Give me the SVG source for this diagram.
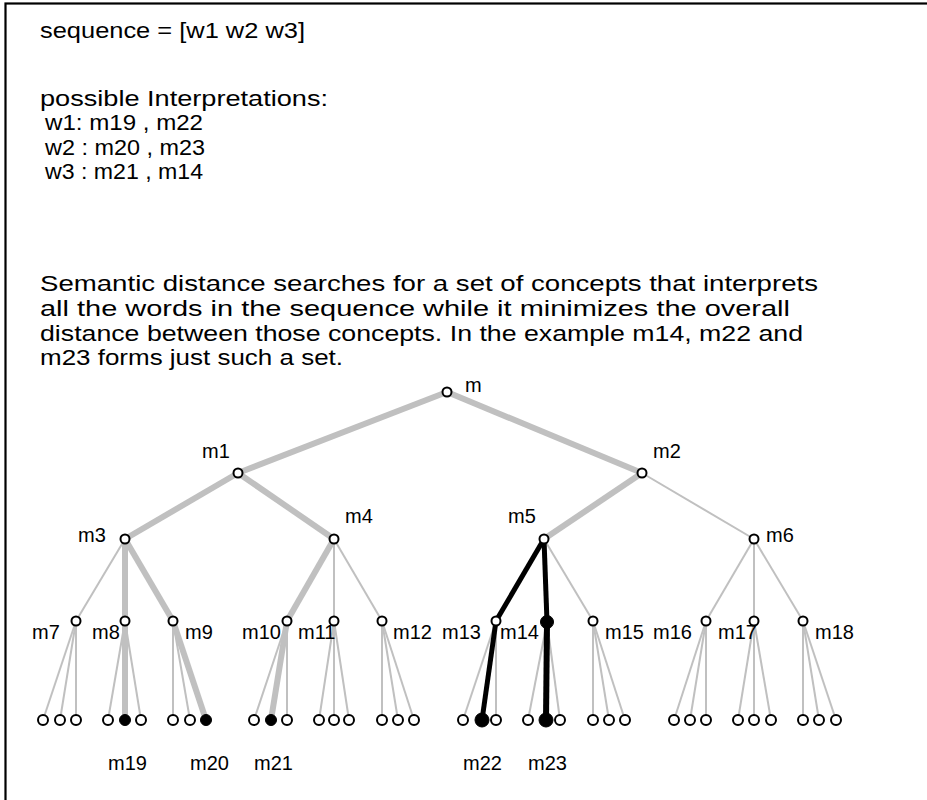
<svg xmlns="http://www.w3.org/2000/svg" width="927" height="800" viewBox="0 0 927 800">
  <style>
    .txt { font-family: "Liberation Sans", Arial, sans-serif; font-size: 22px; fill: #000; }
    .lbl { font-family: "Liberation Sans", Arial, sans-serif; font-size: 20px; fill: #000; }
    .thin { stroke: #c0c0c0; stroke-width: 2; fill: none; }
    .thick { stroke: #c0c0c0; stroke-width: 6; fill: none; }
    .path { stroke: #000; stroke-width: 5; fill: none; }
    .open { fill: #fff; stroke: #000; stroke-width: 2; }
    .hit { fill: #000; stroke: #000; stroke-width: 1; }
  </style>
  <rect width="927" height="800" fill="#fff"/>
  <rect x="5.5" y="3.5" width="940" height="820" fill="none" stroke="#000" stroke-width="2.2"/>

  <!-- explanatory text -->
  <g id="caption">
    <text class="txt" x="40" y="38" textLength="265" lengthAdjust="spacingAndGlyphs">sequence = [w1 w2 w3]</text>
    <text class="txt" x="40" y="106" textLength="288" lengthAdjust="spacingAndGlyphs">possible Interpretations:</text>
    <text class="txt" x="45" y="130" textLength="158" lengthAdjust="spacingAndGlyphs">w1:  m19 , m22</text>
    <text class="txt" x="45" y="155" textLength="160" lengthAdjust="spacingAndGlyphs">w2 : m20 , m23</text>
    <text class="txt" x="45" y="179" textLength="158" lengthAdjust="spacingAndGlyphs">w3 : m21 , m14</text>
    <text class="txt" x="40" y="291" textLength="778" lengthAdjust="spacingAndGlyphs">Semantic distance searches for a set of concepts that interprets</text>
    <text class="txt" x="40" y="316" textLength="750" lengthAdjust="spacingAndGlyphs">all the words in the sequence while it minimizes the overall</text>
    <text class="txt" x="40" y="341" textLength="763" lengthAdjust="spacingAndGlyphs">distance between those concepts. In the example m14, m22 and</text>
    <text class="txt" x="40" y="365" textLength="303" lengthAdjust="spacingAndGlyphs">m23 forms just such a set.</text>
  </g>

  <!-- tree edges -->
  <g id="connectors">
    <!-- ordinary links -->
    <g class="thin">
      <line x1="642" y1="473" x2="754" y2="539"/>
      <line x1="125" y1="539" x2="76" y2="621"/>
      <line x1="334" y1="539" x2="334" y2="621"/>
      <line x1="334" y1="539" x2="382" y2="621"/>
      <line x1="544" y1="539" x2="593" y2="621"/>
      <line x1="754" y1="539" x2="706" y2="621"/>
      <line x1="754" y1="539" x2="754" y2="621"/>
      <line x1="754" y1="539" x2="803" y2="621"/>
      <!-- leaves -->
      <line x1="76" y1="621" x2="43" y2="720"/>
      <line x1="76" y1="621" x2="60" y2="720"/>
      <line x1="76" y1="621" x2="76" y2="720"/>
      <line x1="125" y1="621" x2="108" y2="720"/>
      <line x1="125" y1="621" x2="141" y2="720"/>
      <line x1="173" y1="621" x2="173" y2="720"/>
      <line x1="173" y1="621" x2="190" y2="720"/>
      <line x1="287" y1="621" x2="254" y2="720"/>
      <line x1="287" y1="621" x2="287" y2="720"/>
      <line x1="334" y1="621" x2="319" y2="720"/>
      <line x1="334" y1="621" x2="334" y2="720"/>
      <line x1="334" y1="621" x2="349" y2="720"/>
      <line x1="382" y1="621" x2="382" y2="720"/>
      <line x1="382" y1="621" x2="398" y2="720"/>
      <line x1="382" y1="621" x2="414" y2="720"/>
      <line x1="496" y1="621" x2="463" y2="720"/>
      <line x1="496" y1="621" x2="496" y2="720"/>
      <line x1="547" y1="622" x2="528" y2="720"/>
      <line x1="547" y1="622" x2="560" y2="720"/>
      <line x1="593" y1="621" x2="593" y2="720"/>
      <line x1="593" y1="621" x2="609" y2="720"/>
      <line x1="593" y1="621" x2="625" y2="720"/>
      <line x1="706" y1="621" x2="674" y2="720"/>
      <line x1="706" y1="621" x2="690" y2="720"/>
      <line x1="706" y1="621" x2="706" y2="720"/>
      <line x1="754" y1="621" x2="738" y2="720"/>
      <line x1="754" y1="621" x2="754" y2="720"/>
      <line x1="754" y1="621" x2="771" y2="720"/>
      <line x1="803" y1="621" x2="803" y2="720"/>
      <line x1="803" y1="621" x2="819" y2="720"/>
      <line x1="803" y1="621" x2="836" y2="720"/>
    </g>
    <!-- paths to the ancestors -->
    <g class="thick">
      <line x1="447" y1="392" x2="238" y2="473"/>
      <line x1="447" y1="392" x2="642" y2="473"/>
      <line x1="238" y1="473" x2="125" y2="539"/>
      <line x1="238" y1="473" x2="334" y2="539"/>
      <line x1="642" y1="473" x2="544" y2="539"/>
      <line x1="125" y1="539" x2="125" y2="621"/>
      <line x1="125" y1="539" x2="173" y2="621"/>
      <line x1="334" y1="539" x2="287" y2="621"/>
      <line x1="125" y1="621" x2="125" y2="720"/>
      <line x1="173" y1="621" x2="206" y2="720"/>
      <line x1="287" y1="621" x2="271" y2="720"/>
    </g>
    <!-- minimal set -->
    <g class="path">
      <line x1="544" y1="539" x2="496" y2="621"/>
      <line x1="496" y1="621" x2="482" y2="720"/>
      <line x1="544" y1="539" x2="547" y2="622"/>
      <line x1="547" y1="622" x2="546" y2="720" stroke-width="6"/>
    </g>
  </g>

  <!-- nodes -->
  <g id="n-m"><circle class="open" cx="447" cy="392" r="4.5"/><text class="lbl" x="465" y="392">m</text></g>
  <g id="n-m1"><circle class="open" cx="238" cy="473" r="4.5"/><text class="lbl" x="202" y="458">m1</text></g>
  <g id="n-m2"><circle class="open" cx="642" cy="473" r="4.5"/><text class="lbl" x="653" y="458">m2</text></g>
  <g id="n-m3"><circle class="open" cx="125" cy="539" r="4.5"/><text class="lbl" x="78" y="542">m3</text></g>
  <g id="n-m4"><circle class="open" cx="334" cy="539" r="4.5"/><text class="lbl" x="345" y="523">m4</text></g>
  <g id="n-m5"><circle class="open" cx="544" cy="539" r="4.5"/><text class="lbl" x="508" y="523">m5</text></g>
  <g id="n-m6"><circle class="open" cx="754" cy="539" r="4.5"/><text class="lbl" x="766" y="542">m6</text></g>

  <g id="n-m7"><circle class="open" cx="76" cy="621" r="4.5"/><text class="lbl" x="32" y="639">m7</text></g>
  <g id="n-m8"><circle class="open" cx="125" cy="621" r="4.5"/><text class="lbl" x="92" y="639">m8</text></g>
  <g id="n-m9"><circle class="open" cx="173" cy="621" r="4.5"/><text class="lbl" x="185" y="639">m9</text></g>
  <g id="n-m10"><circle class="open" cx="287" cy="621" r="4.5"/><text class="lbl" x="242" y="639">m10</text></g>
  <g id="n-m11"><circle class="open" cx="334" cy="621" r="4.5"/><text class="lbl" x="298" y="639">m11</text></g>
  <g id="n-m12"><circle class="open" cx="382" cy="621" r="4.5"/><text class="lbl" x="393" y="639">m12</text></g>
  <g id="n-m13"><circle class="open" cx="496" cy="621" r="4.5"/><text class="lbl" x="442" y="639">m13</text></g>
  <g id="n-m14"><circle class="hit" cx="547" cy="622" r="6.5"/><text class="lbl" x="500" y="639">m14</text></g>
  <g id="n-m15"><circle class="open" cx="593" cy="621" r="4.5"/><text class="lbl" x="605" y="639">m15</text></g>
  <g id="n-m16"><circle class="open" cx="706" cy="621" r="4.5"/><text class="lbl" x="653" y="639">m16</text></g>
  <g id="n-m17"><circle class="open" cx="754" cy="621" r="4.5"/><text class="lbl" x="718" y="639">m17</text></g>
  <g id="n-m18"><circle class="open" cx="803" cy="621" r="4.5"/><text class="lbl" x="815" y="639">m18</text></g>

  <!-- leaves -->
  <g id="leaves">
    <circle class="open" cx="43" cy="720" r="5"/><circle class="open" cx="60" cy="720" r="5"/><circle class="open" cx="76" cy="720" r="5"/>
    <circle class="open" cx="108" cy="720" r="5"/><circle class="open" cx="141" cy="720" r="5"/>
    <circle class="open" cx="173" cy="720" r="5"/><circle class="open" cx="190" cy="720" r="5"/>
    <circle class="open" cx="254" cy="720" r="5"/><circle class="open" cx="287" cy="720" r="5"/>
    <circle class="open" cx="319" cy="720" r="5"/><circle class="open" cx="334" cy="720" r="5"/><circle class="open" cx="349" cy="720" r="5"/>
    <circle class="open" cx="382" cy="720" r="5"/><circle class="open" cx="398" cy="720" r="5"/><circle class="open" cx="414" cy="720" r="5"/>
    <circle class="open" cx="463" cy="720" r="5"/><circle class="open" cx="496" cy="720" r="5"/>
    <circle class="open" cx="528" cy="720" r="5"/><circle class="open" cx="560" cy="720" r="5"/>
    <circle class="open" cx="593" cy="720" r="5"/><circle class="open" cx="609" cy="720" r="5"/><circle class="open" cx="625" cy="720" r="5"/>
    <circle class="open" cx="674" cy="720" r="5"/><circle class="open" cx="690" cy="720" r="5"/><circle class="open" cx="706" cy="720" r="5"/>
    <circle class="open" cx="738" cy="720" r="5"/><circle class="open" cx="754" cy="720" r="5"/><circle class="open" cx="771" cy="720" r="5"/>
    <circle class="open" cx="803" cy="720" r="5"/><circle class="open" cx="819" cy="720" r="5"/><circle class="open" cx="836" cy="720" r="5"/>
  </g>
  <g id="n-m19"><circle class="hit" cx="125" cy="720" r="5.5"/><text class="lbl" x="108" y="770">m19</text></g>
  <g id="n-m20"><circle class="hit" cx="206" cy="720" r="5.5"/><text class="lbl" x="190" y="770">m20</text></g>
  <g id="n-m21"><circle class="hit" cx="271" cy="720" r="5.5"/><text class="lbl" x="254" y="770">m21</text></g>
  <g id="n-m22"><circle class="hit" cx="482" cy="720" r="7"/><text class="lbl" x="463" y="770">m22</text></g>
  <g id="n-m23"><circle class="hit" cx="546" cy="720" r="7"/><text class="lbl" x="528" y="770">m23</text></g>
</svg>
